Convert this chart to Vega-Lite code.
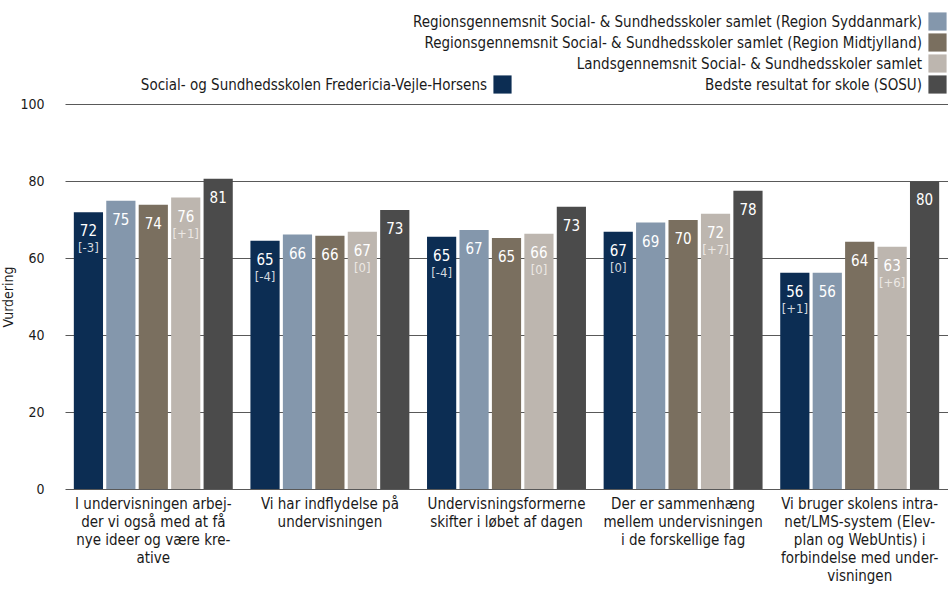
{
  "$schema": "https://vega.github.io/schema/vega-lite/v6.json",
  "width": 883,
  "height": 385,
  "autosize": {"type": "none"},
  "padding": {"left": 65, "top": 104, "right": 0, "bottom": 100},
  "config": {
    "font": "DejaVu Sans Condensed",
    "view": {"stroke": null},
    "legend": {
      "orient": "none",
      "title": null,
      "padding": 0,
      "symbolType": "square",
      "symbolSize": 330,
      "symbolStrokeWidth": 0,
      "symbolOpacity": 1,
      "labelFontSize": 15,
      "labelFont": "DejaVu Sans Condensed",
      "labelColor": "#1a1a1a",
      "labelAlign": "right",
      "labelOffset": -25,
      "labelLimit": 0
    }
  },
  "data": {
    "values": [
      {"q": "I undervisningen arbej-|der vi også med at få|nye ideer og være kre-|ative", "series": "Social- og Sundhedsskolen Fredericia-Vejle-Horsens", "value": 71.9, "label": "72", "change": "[-3]"},
      {"q": "I undervisningen arbej-|der vi også med at få|nye ideer og være kre-|ative", "series": "Regionsgennemsnit Social- & Sundhedsskoler samlet (Region Syddanmark)", "value": 74.9, "label": "75", "change": null},
      {"q": "I undervisningen arbej-|der vi også med at få|nye ideer og være kre-|ative", "series": "Regionsgennemsnit Social- & Sundhedsskoler samlet (Region Midtjylland)", "value": 73.8, "label": "74", "change": null},
      {"q": "I undervisningen arbej-|der vi også med at få|nye ideer og være kre-|ative", "series": "Landsgennemsnit Social- & Sundhedsskoler samlet", "value": 75.7, "label": "76", "change": "[+1]"},
      {"q": "I undervisningen arbej-|der vi også med at få|nye ideer og være kre-|ative", "series": "Bedste resultat for skole (SOSU)", "value": 80.6, "label": "81", "change": null},
      {"q": "Vi har indflydelse på|undervisningen", "series": "Social- og Sundhedsskolen Fredericia-Vejle-Horsens", "value": 64.5, "label": "65", "change": "[-4]"},
      {"q": "Vi har indflydelse på|undervisningen", "series": "Regionsgennemsnit Social- & Sundhedsskoler samlet (Region Syddanmark)", "value": 66.1, "label": "66", "change": null},
      {"q": "Vi har indflydelse på|undervisningen", "series": "Regionsgennemsnit Social- & Sundhedsskoler samlet (Region Midtjylland)", "value": 65.8, "label": "66", "change": null},
      {"q": "Vi har indflydelse på|undervisningen", "series": "Landsgennemsnit Social- & Sundhedsskoler samlet", "value": 66.8, "label": "67", "change": "[0]"},
      {"q": "Vi har indflydelse på|undervisningen", "series": "Bedste resultat for skole (SOSU)", "value": 72.5, "label": "73", "change": null},
      {"q": "Undervisningsformerne|skifter i løbet af dagen", "series": "Social- og Sundhedsskolen Fredericia-Vejle-Horsens", "value": 65.5, "label": "65", "change": "[-4]"},
      {"q": "Undervisningsformerne|skifter i løbet af dagen", "series": "Regionsgennemsnit Social- & Sundhedsskoler samlet (Region Syddanmark)", "value": 67.3, "label": "67", "change": null},
      {"q": "Undervisningsformerne|skifter i løbet af dagen", "series": "Regionsgennemsnit Social- & Sundhedsskoler samlet (Region Midtjylland)", "value": 65.2, "label": "65", "change": null},
      {"q": "Undervisningsformerne|skifter i løbet af dagen", "series": "Landsgennemsnit Social- & Sundhedsskoler samlet", "value": 66.3, "label": "66", "change": "[0]"},
      {"q": "Undervisningsformerne|skifter i løbet af dagen", "series": "Bedste resultat for skole (SOSU)", "value": 73.3, "label": "73", "change": null},
      {"q": "Der er sammenhæng|mellem undervisningen|i de forskellige fag", "series": "Social- og Sundhedsskolen Fredericia-Vejle-Horsens", "value": 66.8, "label": "67", "change": "[0]"},
      {"q": "Der er sammenhæng|mellem undervisningen|i de forskellige fag", "series": "Regionsgennemsnit Social- & Sundhedsskoler samlet (Region Syddanmark)", "value": 69.2, "label": "69", "change": null},
      {"q": "Der er sammenhæng|mellem undervisningen|i de forskellige fag", "series": "Regionsgennemsnit Social- & Sundhedsskoler samlet (Region Midtjylland)", "value": 69.9, "label": "70", "change": null},
      {"q": "Der er sammenhæng|mellem undervisningen|i de forskellige fag", "series": "Landsgennemsnit Social- & Sundhedsskoler samlet", "value": 71.5, "label": "72", "change": "[+7]"},
      {"q": "Der er sammenhæng|mellem undervisningen|i de forskellige fag", "series": "Bedste resultat for skole (SOSU)", "value": 77.5, "label": "78", "change": null},
      {"q": "Vi bruger skolens intra-|net/LMS-system (Elev-|plan og WebUntis) i|forbindelse med under-|visningen", "series": "Social- og Sundhedsskolen Fredericia-Vejle-Horsens", "value": 56.2, "label": "56", "change": "[+1]"},
      {"q": "Vi bruger skolens intra-|net/LMS-system (Elev-|plan og WebUntis) i|forbindelse med under-|visningen", "series": "Regionsgennemsnit Social- & Sundhedsskoler samlet (Region Syddanmark)", "value": 56.2, "label": "56", "change": null},
      {"q": "Vi bruger skolens intra-|net/LMS-system (Elev-|plan og WebUntis) i|forbindelse med under-|visningen", "series": "Regionsgennemsnit Social- & Sundhedsskoler samlet (Region Midtjylland)", "value": 64.2, "label": "64", "change": null},
      {"q": "Vi bruger skolens intra-|net/LMS-system (Elev-|plan og WebUntis) i|forbindelse med under-|visningen", "series": "Landsgennemsnit Social- & Sundhedsskoler samlet", "value": 62.9, "label": "63", "change": "[+6]"},
      {"q": "Vi bruger skolens intra-|net/LMS-system (Elev-|plan og WebUntis) i|forbindelse med under-|visningen", "series": "Bedste resultat for skole (SOSU)", "value": 79.9, "label": "80", "change": null}
    ]
  },
  "encoding": {
    "x": {
      "field": "q", "type": "nominal", "sort": null,
      "scale": {"paddingInner": 0.1, "paddingOuter": 0.05},
      "axis": {
        "title": null, "labelAngle": 0, "domain": false, "ticks": false,
        "labelExpr": "split(datum.label, '|')",
        "labelFontSize": 15, "labelColor": "#1a1a1a", "labelLineHeight": 18,
        "labelBaseline": "top", "labelPadding": 7, "labelLimit": 0
      }
    },
    "xOffset": {
      "field": "series", "type": "nominal",
      "scale": {
        "domain": [
          "Social- og Sundhedsskolen Fredericia-Vejle-Horsens",
          "Regionsgennemsnit Social- & Sundhedsskoler samlet (Region Syddanmark)",
          "Regionsgennemsnit Social- & Sundhedsskoler samlet (Region Midtjylland)",
          "Landsgennemsnit Social- & Sundhedsskoler samlet",
          "Bedste resultat for skole (SOSU)"
        ],
        "paddingInner": 0.1
      }
    },
    "y": {
      "field": "value", "type": "quantitative",
      "scale": {"domain": [0, 100]},
      "axis": {
        "values": [0, 20, 40, 60, 80, 100],
        "title": "Vurdering", "titleFontWeight": "normal", "titleFontSize": 14, "titleColor": "#1a1a1a", "titlePadding": 4,
        "domain": false, "ticks": false, "grid": true, "gridColor": "#595959", "gridOpacity": 1,
        "labelFontSize": 14, "labelColor": "#1a1a1a", "labelPadding": 21
      }
    }
  },
  "layer": [
    {
      "transform": [{"filter": "datum.series === 'Social- og Sundhedsskolen Fredericia-Vejle-Horsens'"}],
      "mark": {"type": "bar"},
      "encoding": {"color": {"field": "series", "type": "nominal", "scale": {"domain": ["Social- og Sundhedsskolen Fredericia-Vejle-Horsens"], "range": ["#0c2d53"]}, "legend": {"legendX": 428, "legendY": -29}}}
    },
    {
      "transform": [{"filter": "datum.series === 'Regionsgennemsnit Social- & Sundhedsskoler samlet (Region Syddanmark)'"}],
      "mark": {"type": "bar"},
      "encoding": {"color": {"field": "series", "type": "nominal", "scale": {"domain": ["Regionsgennemsnit Social- & Sundhedsskoler samlet (Region Syddanmark)"], "range": ["#8497ac"]}, "legend": {"legendX": 863, "legendY": -92}}}
    },
    {
      "transform": [{"filter": "datum.series === 'Regionsgennemsnit Social- & Sundhedsskoler samlet (Region Midtjylland)'"}],
      "mark": {"type": "bar"},
      "encoding": {"color": {"field": "series", "type": "nominal", "scale": {"domain": ["Regionsgennemsnit Social- & Sundhedsskoler samlet (Region Midtjylland)"], "range": ["#7a6f5f"]}, "legend": {"legendX": 863, "legendY": -71}}}
    },
    {
      "transform": [{"filter": "datum.series === 'Landsgennemsnit Social- & Sundhedsskoler samlet'"}],
      "mark": {"type": "bar"},
      "encoding": {"color": {"field": "series", "type": "nominal", "scale": {"domain": ["Landsgennemsnit Social- & Sundhedsskoler samlet"], "range": ["#bdb6af"]}, "legend": {"legendX": 863, "legendY": -50}}}
    },
    {
      "transform": [{"filter": "datum.series === 'Bedste resultat for skole (SOSU)'"}],
      "mark": {"type": "bar"},
      "encoding": {"color": {"field": "series", "type": "nominal", "scale": {"domain": ["Bedste resultat for skole (SOSU)"], "range": ["#4b4b4b"]}, "legend": {"legendX": 863, "legendY": -29}}}
    },
    {
      "mark": {"type": "text", "font": "DejaVu Sans Condensed", "fontSize": 15, "baseline": "middle", "align": "center", "dy": 19, "color": "#ffffff"},
      "encoding": {"text": {"field": "label"}}
    },
    {
      "transform": [{"filter": "datum.change != null"}],
      "mark": {"type": "text", "font": "DejaVu Sans Condensed", "fontSize": 13, "baseline": "middle", "align": "center", "dy": 36},
      "encoding": {
        "text": {"field": "change"},
        "color": {"condition": {"test": "datum.series === 'Landsgennemsnit Social- & Sundhedsskoler samlet'", "value": "#ece8e4"}, "value": "#d3d8df"}
      }
    }
  ],
  "resolve": {"scale": {"color": "independent"}, "legend": {"color": "independent"}}
}
